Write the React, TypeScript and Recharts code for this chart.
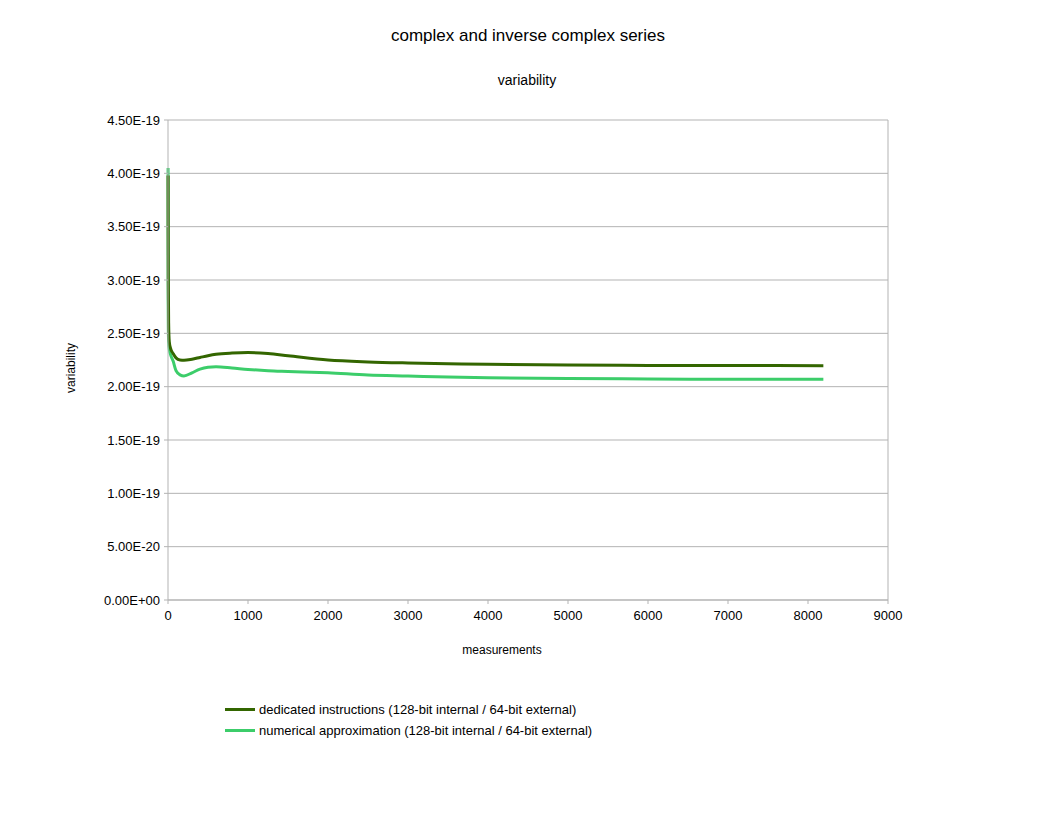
import React from "react";
import {
  LineChart,
  Line,
  XAxis,
  YAxis,
  CartesianGrid,
  ReferenceLine,
} from "recharts";

// measurement indices
const measurements = [
  1, 2, 4, 8, 16, 32, 64, 100, 150, 200, 300, 400, 500, 600, 800, 1000, 1250,
  1500, 2000, 2500, 3000, 3500, 4000, 5000, 6000, 7000, 8192,
];

// variability, dedicated instructions (128-bit internal / 64-bit external)
const dedicated = [
  3.98e-19, 3.5e-19, 3.0e-19, 2.6e-19, 2.42e-19, 2.36e-19, 2.31e-19, 2.27e-19,
  2.25e-19, 2.248e-19, 2.258e-19, 2.274e-19, 2.29e-19, 2.303e-19, 2.315e-19,
  2.32e-19, 2.31e-19, 2.29e-19, 2.25e-19, 2.232e-19, 2.222e-19, 2.215e-19,
  2.209e-19, 2.203e-19, 2.199e-19, 2.198e-19, 2.197e-19,
];

// variability, numerical approximation (128-bit internal / 64-bit external)
const approximation = [
  4.05e-19, 2.81e-19, 2.55e-19, 2.42e-19, 2.35e-19, 2.3e-19, 2.24e-19,
  2.15e-19, 2.11e-19, 2.1e-19, 2.13e-19, 2.165e-19, 2.182e-19, 2.186e-19,
  2.175e-19, 2.162e-19, 2.15e-19, 2.143e-19, 2.13e-19, 2.11e-19, 2.1e-19,
  2.09e-19, 2.083e-19, 2.077e-19, 2.072e-19, 2.07e-19, 2.069e-19,
];

const xTicks = [0, 1000, 2000, 3000, 4000, 5000, 6000, 7000, 8000, 9000];
const yTicks = [
  0, 0.5e-19, 1e-19, 1.5e-19, 2e-19, 2.5e-19, 3e-19, 3.5e-19, 4e-19, 4.5e-19,
];

const DARK = "#336600";
const LIGHT = "#3ccd6a";
const FONT = "'Liberation Sans', Arial, sans-serif";

const data = measurements.map((m, i) => ({
  m,
  dedicated: dedicated[i],
  approximation: approximation[i],
}));

// 4.5e-19 -> "4.50E-19"
const sci = (v: number) => {
  const [mant, exp] = v.toExponential(2).split("e");
  const sign = exp[0] === "-" ? "-" : "+";
  const digits = exp.replace(/[+-]/, "").padStart(2, "0");
  return `${mant}E${sign}${digits}`;
};

const legendItems = [
  { label: "dedicated instructions (128-bit internal / 64-bit external)", color: DARK },
  { label: "numerical approximation (128-bit internal / 64-bit external)", color: LIGHT },
];

export default function App() {
  const tickStyle = { fill: "#000", fontSize: 13, fontFamily: FONT };
  return (
    <div
      style={{
        position: "absolute",
        left: 0,
        top: 0,
        width: 1056,
        height: 816,
        background: "#fff",
        fontFamily: FONT,
        color: "#000",
      }}
    >
      <div
        style={{
          position: "absolute",
          top: 26,
          width: 1056,
          textAlign: "center",
          fontSize: 17,
        }}
      >
        complex and inverse complex series
      </div>
      <div
        style={{
          position: "absolute",
          top: 72,
          width: 1056,
          left: -1,
          textAlign: "center",
          fontSize: 14,
        }}
      >
        variability
      </div>
      <div
        style={{
          position: "absolute",
          left: 71,
          top: 368,
          fontSize: 12,
          transform: "translate(-50%, -50%) rotate(-90deg)",
          whiteSpace: "nowrap",
        }}
      >
        variability
      </div>
      <div
        style={{
          position: "absolute",
          left: 502,
          top: 643,
          fontSize: 12,
          transform: "translateX(-50%)",
          whiteSpace: "nowrap",
        }}
      >
        measurements
      </div>

      <LineChart
        width={1056}
        height={816}
        data={data}
        margin={{ top: 120, right: 168, bottom: 186, left: 88 }}
      >
        <CartesianGrid
          horizontal={true}
          vertical={false}
          stroke="#b3b3b3"
          strokeWidth={1}
        />
        <XAxis
          dataKey="m"
          type="number"
          domain={[0, 9000]}
          ticks={xTicks}
          interval={0}
          height={30}
          stroke="#b3b3b3"
          tickSize={4}
          tickMargin={7}
          tick={tickStyle}
        />
        <YAxis
          type="number"
          domain={[0, 4.5e-19]}
          ticks={yTicks}
          interval={0}
          width={80}
          stroke="#b3b3b3"
          tickSize={4}
          tickMargin={4}
          tick={tickStyle}
          tickFormatter={sci}
        />
        <ReferenceLine x={9000} stroke="#b3b3b3" strokeWidth={1} />
        <Line
          type="monotone"
          dataKey="approximation"
          stroke={LIGHT}
          strokeWidth={3}
          dot={false}
          isAnimationActive={false}
        />
        <Line
          type="monotone"
          dataKey="dedicated"
          stroke={DARK}
          strokeWidth={3}
          dot={false}
          isAnimationActive={false}
        />
      </LineChart>

      {legendItems.map((item, i) => (
        <div
          key={item.label}
          style={{
            position: "absolute",
            left: 225,
            top: 701 + i * 21,
            height: 16,
            display: "flex",
            alignItems: "center",
            fontSize: 13,
            whiteSpace: "nowrap",
          }}
        >
          <span
            style={{
              display: "inline-block",
              width: 30,
              height: 3,
              background: item.color,
              marginRight: 4,
            }}
          />
          {item.label}
        </div>
      ))}
    </div>
  );
}
